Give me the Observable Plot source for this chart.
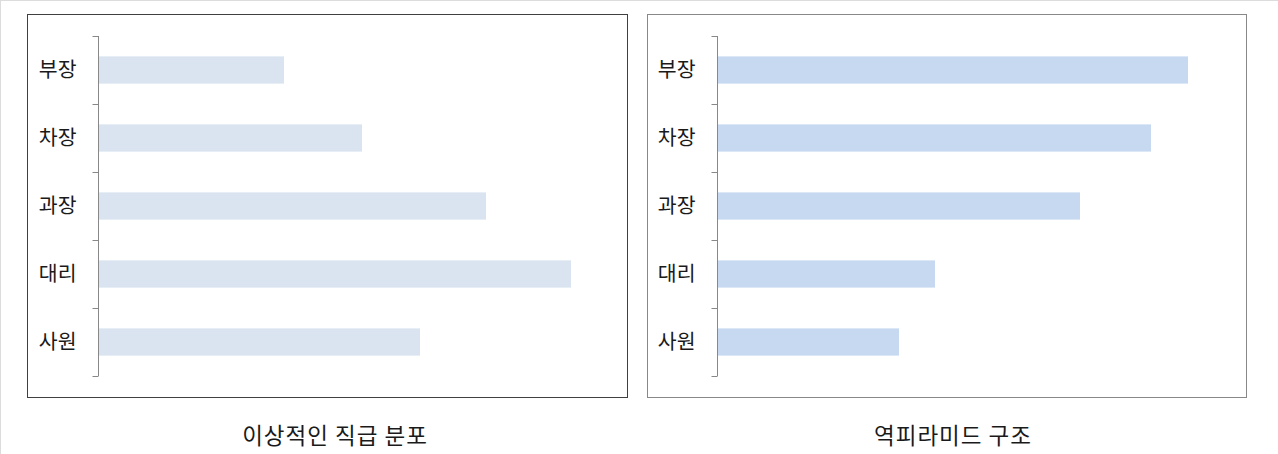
<!DOCTYPE html>
<html><head><meta charset="utf-8">
<script src="https://cdn.jsdelivr.net/npm/d3@7"></script>
<script src="https://cdn.jsdelivr.net/npm/@observablehq/plot@0.6"></script>
<style>
html,body{margin:0;padding:0;background:#fff;}
body{width:1278px;height:454px;position:relative;overflow:hidden;font-family:"Noto Sans CJK KR","Noto Sans",sans-serif;}
#frame{position:absolute;left:0;top:0;width:1278px;height:454px;box-sizing:border-box;border-top:1px solid #dcdcdc;border-left:1px solid #dcdcdc;}
.box{position:absolute;top:14px;height:384px;box-sizing:border-box;background:#fff;}
#b1{left:27px;width:601px;border:1px solid #404040;}
#b2{left:647px;width:600px;border:1px solid #888;}
.box svg{display:block;}
.title{position:absolute;top:419px;font-size:22.5px;color:#1a1a1a;transform:translateX(-50%);white-space:nowrap;line-height:30px;letter-spacing:1px;}
</style></head>
<body>
<div id="frame"></div>
<div class="box" id="b1"></div>
<div class="box" id="b2"></div>
<div class="title" style="left:335px">이상적인 직급 분포</div>
<div class="title" style="left:953px">역피라미드 구조</div>
<script>
const categories = ["부장", "차장", "과장", "대리", "사원"];
const idealValues = [186, 264, 388, 473, 322];
const invertedValues = [471, 434, 363, 218, 182];
const titles = ["이상적인 직급 분포", "역피라미드 구조"];
const PAD_INNER = 0.6;

function bandTicks(color) {
  return (index, scales, values, dims) => {
    const y = scales.y;
    const step = y(categories[1]) - y(categories[0]);
    const bw = step * (1 - PAD_INNER);
    const g = d3.create("svg:g").attr("stroke", color).attr("stroke-width", 1);
    const x0 = dims.marginLeft + 0.5;
    const bounds = categories.map(c => y(c) + bw / 2 - step / 2);
    bounds.push(y(categories[categories.length - 1]) + bw / 2 + step / 2);
    for (const b of bounds) {
      g.append("line").attr("x1", x0 - 6).attr("x2", x0)
        .attr("y1", Math.round(b) + 0.5).attr("y2", Math.round(b) + 0.5);
    }
    return g.node();
  };
}

function panel(values, color, width, marginLeft) {
  const data = categories.map((c, i) => ({cat: c, v: values[i]}));
  return Plot.plot({
    width, height: 382,
    marginLeft, marginRight: width - marginLeft - 500,
    marginTop: 21, marginBottom: 21,
    style: {fontFamily: '"Noto Sans CJK KR", sans-serif', background: "#fff", color: "#1a1a1a"},
    x: {domain: [0, 500], axis: null},
    y: {domain: categories, paddingInner: PAD_INNER, paddingOuter: PAD_INNER / 2, round: false, label: null},
    marks: [
      Plot.barX(data, {x: "v", y: "cat", fill: color}),
      Plot.axisY({tickSize: 0, tickPadding: 22, fontSize: 20.5, label: null}),
      Plot.ruleX([0], {stroke: "#888"}),
      bandTicks("#888")
    ]
  });
}

document.getElementById("b1").append(panel(idealValues, "#dae3f0", 599, 70));
document.getElementById("b2").append(panel(invertedValues, "#c6d9f0", 598, 69));
</script>
</body></html>
